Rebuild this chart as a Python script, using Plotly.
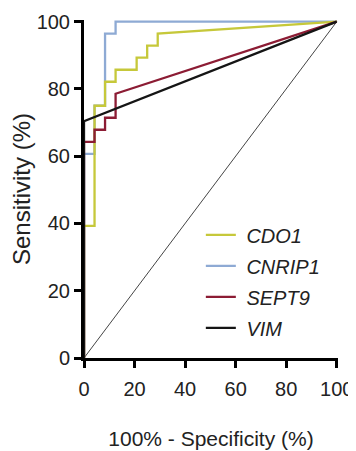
import plotly.graph_objects as go

# ROC curve data (100% - Specificity, Sensitivity), in %
cdo1_x = [0, 0, 4.17, 4.17, 8.33, 8.33, 12.5, 12.5, 20.83, 20.83, 25, 25, 29.17, 29.17, 100]
cdo1_y = [0, 39.29, 39.29, 75, 75, 82.14, 82.14, 85.71, 85.71, 89.29, 89.29, 92.86, 92.86, 96.43, 100]

cnrip1_x = [0, 0, 4.17, 4.17, 8.33, 8.33, 12.5, 12.5, 100]
cnrip1_y = [0, 60.71, 60.71, 75, 75, 96.43, 96.43, 100, 100]

sept9_x = [0, 0, 4.17, 4.17, 8.33, 8.33, 12.5, 12.5, 100]
sept9_y = [0, 64.29, 64.29, 67.86, 67.86, 71.43, 71.43, 78.57, 100]

vim_x = [0, 0, 100]
vim_y = [0, 70.4, 100]

ref_x = [0, 100]
ref_y = [0, 100]

tick_vals = [0, 20, 40, 60, 80, 100]

FONT = "Liberation Sans, Arial, sans-serif"

fig = go.Figure()
fig.add_trace(go.Scatter(x=ref_x, y=ref_y, mode="lines", showlegend=False,
                         line=dict(color="#444444", width=1)))
fig.add_trace(go.Scatter(x=cnrip1_x, y=cnrip1_y, mode="lines", name="&nbsp;<i>CNRIP1</i>",
                         legendrank=2, legendgroup="b",
                         line=dict(color="#8eaad4", width=2.3)))
fig.add_trace(go.Scatter(x=cdo1_x, y=cdo1_y, mode="lines", name="&nbsp;<i>CDO1</i>",
                         legendrank=1, legendgroup="a",
                         line=dict(color="#c6c83a", width=2.3)))
fig.add_trace(go.Scatter(x=sept9_x, y=sept9_y, mode="lines", name="&nbsp;<i>SEPT9</i>",
                         legendrank=3, legendgroup="c",
                         line=dict(color="#8c1c34", width=2.3)))
fig.add_trace(go.Scatter(x=vim_x, y=vim_y, mode="lines", name="&nbsp;<i>VIM</i>",
                         legendrank=4, legendgroup="d",
                         line=dict(color="#151515", width=2.3)))

axis_common = dict(
    range=[0, 100.5], showgrid=False, zeroline=False, showline=True, automargin=False,
    linecolor="black", linewidth=3, ticks="outside", ticklen=7, tickwidth=2.5,
    tickcolor="black", tickvals=tick_vals, ticktext=[str(v) for v in tick_vals],
    tickfont=dict(family=FONT, size=20, color="#222222"),
)

fig.update_layout(
    width=348, height=443,
    margin=dict(l=76, r=18, t=12, b=93),
    paper_bgcolor="white", plot_bgcolor="white",
    font=dict(family=FONT, color="#222222"),
    xaxis=dict(**axis_common, ticklabelstandoff=4,
               title=dict(text="100% - Specificity (%)", font=dict(family=FONT, size=21),
                          standoff=33)),
    yaxis=dict(**axis_common,
               title=dict(text="Sensitivity (%)", font=dict(family=FONT, size=24),
                          standoff=6)),
    legend=dict(x=0.46, y=0.422, xanchor="left", yanchor="top",
                bgcolor="rgba(0,0,0,0)", font=dict(family=FONT, size=20, color="#222222"),
                tracegroupgap=2, traceorder="grouped"),
)

fig.write_html("out.html")
